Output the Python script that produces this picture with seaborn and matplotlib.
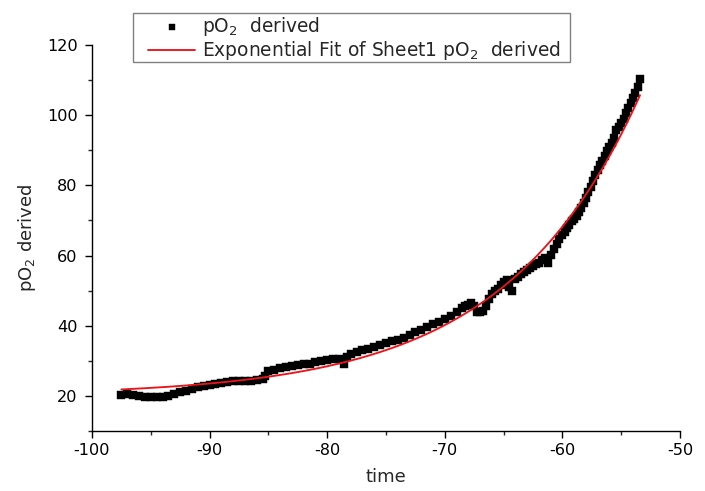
import numpy as np
import pandas as pd
import matplotlib
matplotlib.use("Agg")
import matplotlib.pyplot as plt
from matplotlib.patches import Rectangle
import seaborn as sns

# ---- data ----
time_vals = [
    -97.5, -97.0, -96.5, -96.0, -95.5, -95.0, -94.5, -94.0, -93.5, -93.0,
    -92.5, -92.0, -91.5, -91.0, -90.5, -90.0, -89.5, -89.0, -88.5, -88.0,
    -87.5, -87.0, -86.5, -86.0, -85.5, -85.3, -85.0, -84.5, -84.0, -83.5,
    -83.0, -82.5, -82.0, -81.5, -81.0, -80.5, -80.0, -79.5, -79.0, -78.6,
    -78.3, -78.0, -77.5, -77.0, -76.5, -76.0, -75.5, -75.0, -74.5, -74.0,
    -73.5, -73.0, -72.5, -72.0, -71.5, -71.0, -70.5, -70.0, -69.5, -69.0,
    -68.5, -68.25, -68.0, -67.75, -67.5, -67.25, -67.0, -66.75, -66.5, -66.25,
    -66.0, -65.75, -65.5, -65.25, -65.0, -64.75, -64.5, -64.25, -64.0, -63.75,
    -63.5, -63.25, -63.0, -62.75, -62.5, -62.25, -62.0, -61.75, -61.5, -61.25,
    -61.0, -60.75, -60.5, -60.25, -60.0, -59.8, -59.6, -59.4, -59.2, -59.0,
    -58.8, -58.6, -58.4, -58.2, -58.0, -57.8, -57.6, -57.4, -57.2, -57.0,
    -56.8, -56.6, -56.4, -56.2, -56.0, -55.8, -55.6, -55.4, -55.2, -55.0,
    -54.8, -54.6, -54.4, -54.2, -54.0, -53.8, -53.6, -53.4,
]
po2_vals = [
    20.4, 20.5, 20.3, 20.0, 19.7, 19.8, 19.6, 19.8, 20.1, 20.5,
    21.0, 21.4, 21.9, 22.4, 22.8, 23.1, 23.5, 23.8, 24.1, 24.3,
    24.3, 24.2, 24.3, 24.5, 24.7, 25.8, 27.2, 27.5, 27.9, 28.2,
    28.4, 28.7, 29.0, 29.2, 29.6, 30.0, 30.2, 30.6, 30.5, 29.2,
    31.0, 32.0, 32.6, 33.0, 33.5, 34.0, 34.6, 35.1, 35.6, 36.0,
    36.6, 37.5, 38.3, 38.8, 39.7, 40.5, 41.2, 41.8, 42.8, 44.0,
    45.0, 45.5, 46.0, 46.5, 45.5, 44.0, 43.8, 44.2, 45.5, 47.5,
    49.0, 49.8, 50.6, 51.6, 52.6, 53.0, 51.0, 49.8, 53.2, 54.0,
    54.8, 55.3, 55.9, 56.5, 57.0, 57.6, 58.0, 58.6, 59.2, 57.8,
    60.2, 61.8, 63.2, 64.6, 65.8, 66.8, 67.8, 68.8, 69.8, 70.5,
    71.2, 72.3, 73.6, 75.0, 76.4, 78.0, 79.6, 81.2, 83.0, 84.4,
    85.8, 87.0, 88.4, 89.8, 91.0, 92.0, 93.4, 95.8, 96.6, 97.8,
    99.0, 100.5, 102.0, 103.5, 104.8, 106.3, 108.0, 110.3,
]

# exponential fit parameters (y = y0 + A*exp((x - x0)/t))
FIT_Y0 = 20.0
FIT_A = 85.7
FIT_X0 = -53.4
FIT_T = 11.48

x_ticks = [-100, -90, -80, -70, -60, -50]
y_ticks = [20, 40, 60, 80, 100, 120]

series_label = "pO$_2$  derived"
fit_label = "Exponential Fit of Sheet1 pO$_2$  derived"

# ---- style ----
sns.set_style("ticks")
plt.rcParams["font.family"] = ["DejaVu Sans"]
plt.rcParams["mathtext.fontset"] = "dejavusans"
plt.rcParams["mathtext.default"] = "regular"
plt.rcParams["axes.unicode_minus"] = False

W, H = 705, 491
df = pd.DataFrame({"time": time_vals, "pO2": po2_vals})
fit_x = np.linspace(min(time_vals), max(time_vals), 300)
fit_df = pd.DataFrame({"time": fit_x,
                       "fit": FIT_Y0 + FIT_A * np.exp((fit_x - FIT_X0) / FIT_T)})

fig = plt.figure(figsize=(W / 100, H / 100), dpi=100)
ax = fig.add_axes([92 / W, 1 - 431 / H, (680 - 92) / W, (431 - 45) / H])

sns.scatterplot(data=df, x="time", y="pO2", ax=ax, marker="s", s=32,
                color="black", edgecolor="black", linewidth=0.3,
                label=series_label, zorder=2)
sns.lineplot(data=fit_df, x="time", y="fit", ax=ax, color="#e8151b",
             linewidth=1.35, label=fit_label, zorder=3)

ax.set_xlim(-100, -50)
ax.set_ylim(10, 120)
ax.set_xticks(x_ticks)
ax.set_yticks(y_ticks)
ax.set_xticks([-95, -85, -75, -65, -55], minor=True)
ax.set_yticks([10, 30, 50, 70, 90, 110], minor=True)
ax.tick_params(which="major", direction="out", length=5, width=1.0,
               labelsize=11.6, colors="black")
ax.tick_params(axis="x", which="major", pad=3.6)
ax.tick_params(axis="y", which="major", pad=5.4)
ax.tick_params(which="minor", direction="out", length=3, width=1.0)

sns.despine(ax=ax)
for sp in ("left", "bottom"):
    ax.spines[sp].set_linewidth(1.0)
    ax.spines[sp].set_color("black")

ax.set_xlabel("time", fontsize=13)
ax.set_ylabel("pO$_2$ derived", fontsize=13)
ax.xaxis.set_label_coords(0.5, (431 - 468) / (431 - 45))
ax.yaxis.set_label_coords((38 - 92) / (680 - 92), 0.5)

fs = 13.4
fpx = fs * 100 / 72
leg = ax.legend(loc="upper left", bbox_to_anchor=(148 / W, 1 - 15 / H),
                bbox_transform=fig.transFigure, borderaxespad=0,
                fontsize=fs, frameon=False,
                handlelength=47 / fpx, handletextpad=7 / fpx,
                labelspacing=0.07, borderpad=0.0, markerscale=0.65)
fig.add_artist(Rectangle((133 / W, 1 - 62 / H), (570 - 133) / W, 49 / H,
                         transform=fig.transFigure, facecolor="none",
                         edgecolor="#808080", linewidth=1.0))

fig.savefig("out.png", dpi=100)
